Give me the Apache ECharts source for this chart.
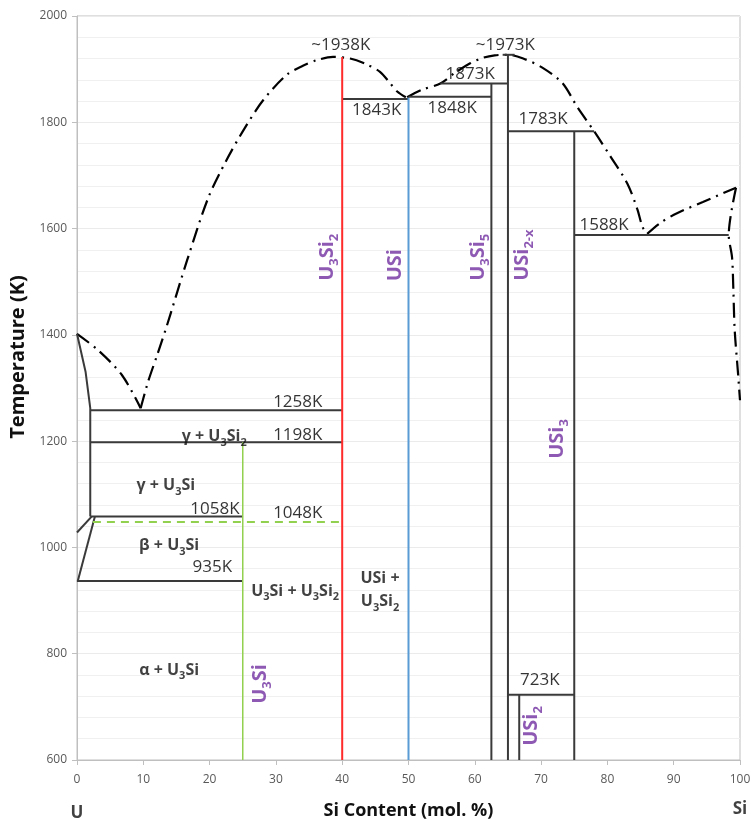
<!DOCTYPE html>
<html><head><meta charset="utf-8">
<script src="https://cdn.jsdelivr.net/npm/echarts@6/dist/echarts.min.js"></script>
<style>html,body{margin:0;padding:0;background:#fff}#c{width:751px;height:820px}</style>
</head><body><div id="c"></div>
<script>
// ---- axis ticks ----
const xTicks = [0, 10, 20, 30, 40, 50, 60, 70, 80, 90, 100];
const yTicks = [600, 800, 1000, 1200, 1400, 1600, 1800, 2000];

// ---- liquidus / solidus curves (dash-dot) : [Si mol.%, T(K)] ----
const liquidusU = [[0,1402],[3.2,1371],[6.8,1324],[9.6,1262]];
const liquidusU3Si2 = [[9.6,1262],[10.7,1311],[12.2,1366],[13.6,1419],[16.6,1540],[19.8,1658],[22.6,1730],[25.3,1789],[28.1,1842],[31.6,1889],[34.0,1906],[36.2,1917],[38.6,1923],[41.2,1920],[43.5,1910],[45.7,1895],[47.2,1874],[48.3,1858],[49.6,1847]];
const liquidusUSi2 = [[49.8,1847],[52.0,1861],[54.8,1873],[57.0,1893],[59.3,1911],[61.1,1921],[63.0,1926],[65.0,1927],[67.3,1920],[70.3,1902],[73.2,1874],[75.5,1828],[78.0,1783],[80.5,1735],[83.0,1685],[84.5,1637],[85.3,1603],[86.0,1590]];
const liquidusSi = [[86.0,1590],[87.9,1610],[90.5,1629],[94.4,1650],[99.4,1677]];
const solidusSi = [[99.4,1677],[98.3,1588],[98.8,1546],[99.0,1484],[99.2,1409],[99.7,1328],[100,1277]];

// ---- solid black phase boundaries ----
const gammaSolvus = [[0,1402],[1.3,1330],[2,1262],[2,1058]];
const betaSolvus = [[2.7,1058],[0.1,936]];
const alphaBeta = [[2.2,1058],[0,1028]];
const iso1258 = [[2,1258],[40,1258]];
const iso1198 = [[2,1198],[40,1198]];
const iso1058 = [[2,1058],[25,1058]];
const iso935 = [[0,937],[25,937]];
const iso1843 = [[40,1844],[50,1844]];
const iso1848 = [[50,1848],[62.5,1848]];
const iso1873 = [[54.8,1873],[65,1873]];
const iso1783 = [[65,1783],[78,1783]];
const iso1588 = [[75,1588],[98.3,1588]];
const iso723 = [[65,723],[75,723]];
const lineU3Si5 = [[62.5,600],[62.5,1873]];
const lineUSi2x = [[65,600],[65,1927]];
const capUSi2x = [[64.2,1927],[66,1927]];
const lineUSi3 = [[75,600],[75,1783]];
const lineUSi2 = [[66.7,600],[66.7,723]];

// ---- coloured compound lines ----
const lineU3Si2 = [[40,600],[40,1923]];
const lineUSi = [[50,600],[50,1846]];
const lineU3Si = [[25,600],[25,1198]];
const iso1048 = [[2.4,1048],[40,1048]];

// ---- text annotations : [x, T, text] ----
const tempLabels = [
  [39.8,1945,'~1938K'],[64.6,1945,'~1973K'],[59.3,1891,'1873K'],[56.6,1827,'1848K'],
  [45.2,1823,'1843K'],[70.3,1806,'1783K'],[79.5,1607,'1588K'],[33.3,1274,'1258K'],
  [33.3,1212,'1198K'],[20.8,1072,'1058K'],[33.3,1065,'1048K'],[20.4,963,'935K'],[69.8,750,'723K']
];
const regionLabels = [
  [20.7,1208,'γ + U{s|3}Si{s|2}'],[13.4,1116,'γ + U{s|3}Si'],[13.9,1003,'β + U{s|3}Si'],
  [32.9,918,'U{s|3}Si + U{s|3}Si{s|2}'],[45.7,920,'USi +\nU{s|3}Si{s|2}'],[13.9,769,'α + U{s|3}Si']
];
const compoundLabels = [
  [27.6,743,'U{s|3}Si'],[37.7,1546,'U{s|3}Si{s|2}'],[48.0,1531,'USi'],[60.5,1546,'U{s|3}Si{s|5}'],
  [67.1,1550,'USi{s|2-x}'],[72.4,1204,'USi{s|3}'],[68.5,664,'USi{s|2}']
];
const endLabels = [[0,500,'U'],[100,508,'Si']];

const FONT = 'Open Sans';
const DASHDOT = [15,6,2,6];

function lineSeries(data, color, width, type, smooth) {
  return {
    type: 'line', data: data, symbol: 'none', silent: true, animation: false,
    smooth: smooth || false, z: 3,
    lineStyle: { color: color, width: width, type: type || 'solid', cap: 'butt' }
  };
}
function textSeries(data, style, rotate, clip) {
  return {
    type: 'scatter', data: data, symbolSize: 0, silent: true, animation: false, z: 5,
    clip: clip === undefined ? true : clip,
    label: Object.assign({
      show: true, position: 'inside', rotate: rotate || 0,
      textBorderWidth: 0, textShadowBlur: 0,
      formatter: p => p.data[2]
    }, style)
  };
}

const series = [];
[liquidusU, liquidusU3Si2, liquidusUSi2, liquidusSi, solidusSi].forEach(d =>
  series.push(lineSeries(d, '#000', 2.2, DASHDOT, 0.3)));
[gammaSolvus, betaSolvus, alphaBeta, iso1258, iso1198, iso1058, iso935, iso1843, iso1848,
 iso1873, iso1783, iso1588, iso723, lineU3Si5, lineUSi2x, capUSi2x, lineUSi3, lineUSi2].forEach(d =>
  series.push(lineSeries(d, '#3a3a3a', 2)));
series.push(lineSeries(lineU3Si2, '#ff2a2a', 2));
series.push(lineSeries(lineUSi, '#5b9bd5', 2));
series.push(lineSeries(lineU3Si, '#92d050', 1.5));
series.push(lineSeries(iso1048, '#92d050', 2, [8,6]));

series.push(textSeries(tempLabels, { fontSize: 17, color: '#000', fontFamily: FONT }));
series.push(textSeries(regionLabels, {
  fontSize: 16, fontWeight: 'bold', color: '#111', fontFamily: FONT, lineHeight: 23, align: 'center',
  rich: { s: { fontSize: 11, fontWeight: 'bold', verticalAlign: 'bottom', lineHeight: 11, color: '#111', fontFamily: FONT } }
}));
series.push(textSeries(compoundLabels, {
  fontSize: 20, fontWeight: 'bold', color: '#7030a0', fontFamily: FONT, lineHeight: 28,
  rich: { s: { fontSize: 13, fontWeight: 'bold', color: '#7030a0', verticalAlign: 'bottom', lineHeight: 13, fontFamily: FONT } }
}, 90));
series.push(textSeries(endLabels, { fontSize: 17, fontWeight: 'bold', color: '#111', fontFamily: FONT }, 0, false));

const chart = echarts.init(document.getElementById('c'), null, { renderer: 'canvas' });
chart.setOption({
  backgroundColor: '#fff',
  animation: false,
  textStyle: { fontFamily: FONT },
  grid: { left: 77, right: 11, top: 16, bottom: 60, show: true, borderColor: '#bfbfbf', borderWidth: 1, containLabel: false, outerBoundsMode: 'none' },
  xAxis: {
    type: 'value', min: xTicks[0], max: xTicks[xTicks.length-1], interval: 10,
    name: 'Si Content (mol. %)', nameLocation: 'middle', nameGap: 42,
    nameTextStyle: { fontSize: 18, fontWeight: 'bold', color: '#111', fontFamily: FONT },
    axisLine: { show: true, lineStyle: { color: '#bfbfbf', width: 1 } },
    axisTick: { show: true, length: 5, lineStyle: { color: '#bfbfbf' } },
    axisLabel: { fontSize: 12, color: '#595959', margin: 14, formatter: v => String(v) },
    splitLine: { show: false }
  },
  yAxis: {
    type: 'value', min: yTicks[0], max: yTicks[yTicks.length-1], interval: 200,
    name: 'Temperature (K)', nameLocation: 'middle', nameGap: 38,
    nameTextStyle: { fontSize: 20, fontWeight: 'bold', color: '#111', fontFamily: FONT, padding: [0,0,0,62] },
    axisLine: { show: true, lineStyle: { color: '#bfbfbf', width: 1 } },
    axisTick: { show: true, length: 5, lineStyle: { color: '#bfbfbf' } },
    axisLabel: { fontSize: 12, color: '#595959', margin: 10, formatter: v => String(v) },
    splitLine: { show: true, lineStyle: { color: '#ebebeb', width: 1 } },
    minorTick: { show: false, splitNumber: 5 },
    minorSplitLine: { show: true, lineStyle: { color: '#f0f0f0', width: 1 } }
  },
  series: series
});
</script>
</body></html>
